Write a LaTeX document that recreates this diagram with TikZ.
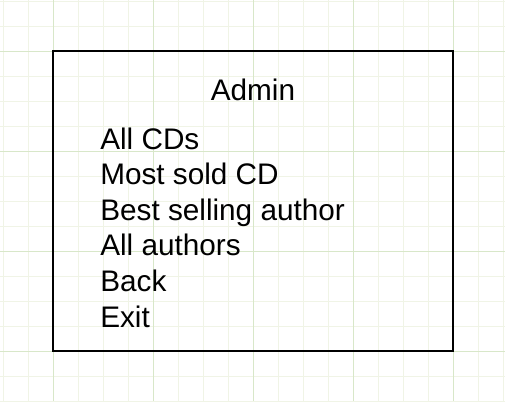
\documentclass[tikz,border=0pt]{standalone}
\usepackage{fontspec}
\setmainfont{Liberation Sans}
\definecolor{gridminor}{HTML}{F0F4E6}
\definecolor{gridmajor}{HTML}{D8E7C9}
\begin{document}
\begin{tikzpicture}[x=0.75pt,y=-0.75pt,
  menutext/.style={anchor=base west,inner sep=0pt,font=\fontsize{22.3pt}{26pt}\selectfont},
  titletext/.style={anchor=base,inner sep=0pt,font=\fontsize{22.3pt}{26pt}\selectfont},
  panel/.style={draw=black,line width=1.5pt,minimum width=300pt,minimum height=225pt,inner sep=0pt}]
\useasboundingbox (0,0) rectangle (505,401);
\fill[white] (0,0) rectangle (505,401);
% grid
\foreach \gx in {3,28,...,503} \draw[gridminor,line width=0.75pt] (\gx,0) -- (\gx,401);
\foreach \gy in {1,26,...,401} \draw[gridminor,line width=0.75pt] (0,\gy) -- (505,\gy);
\foreach \gx in {53,153,...,453} \draw[gridmajor,line width=0.75pt] (\gx,0) -- (\gx,401);
\foreach \gy in {51,151,...,351} \draw[gridmajor,line width=0.75pt] (0,\gy) -- (505,\gy);
% panel
\node[panel] (box) at (253,201) {};
\node[titletext] (admin) at (253,100.5) {Admin};
\node[menutext] (cds) at (100,149) {All CDs};
\node[menutext] (most) at (100,184.5) {Most sold CD};
\node[menutext] (best) at (100,220) {Best selling author};
\node[menutext] (authors) at (100,255.5) {All authors};
\node[menutext] (back) at (100,291.5) {Back};
\node[menutext] (exit) at (100,327) {Exit};
\end{tikzpicture}
\end{document}
